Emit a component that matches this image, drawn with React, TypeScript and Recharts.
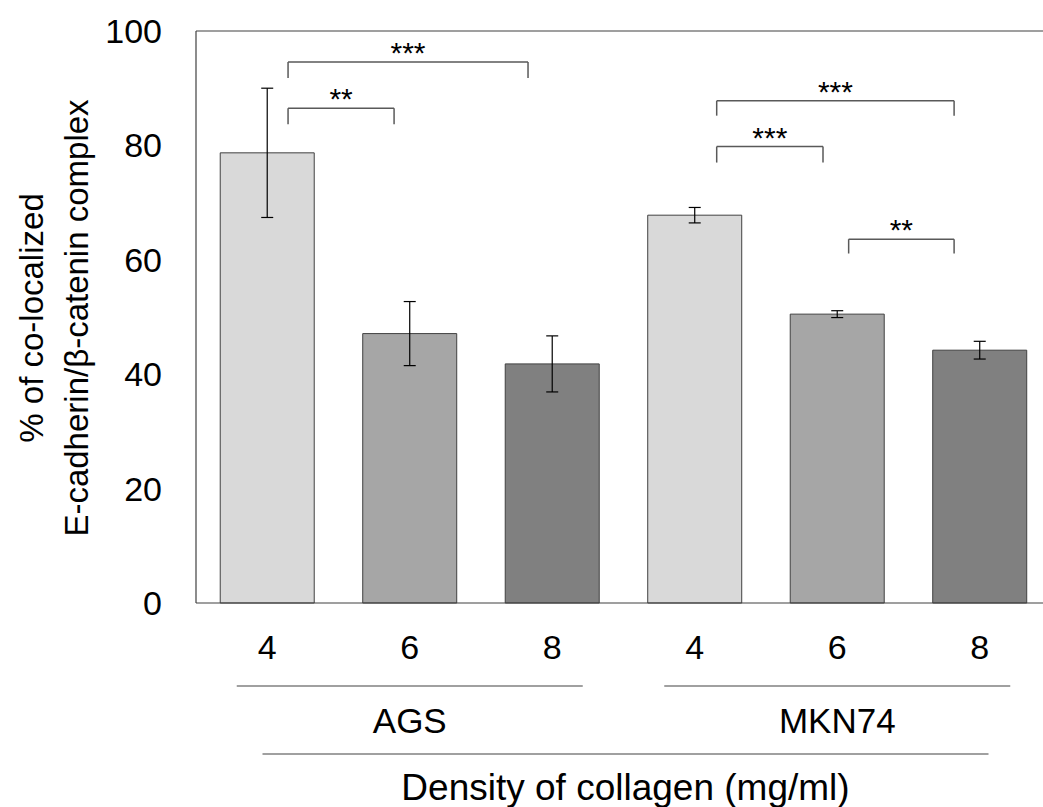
import React from 'react';
import { BarChart, Bar, XAxis, YAxis, Cell, ErrorBar, ReferenceLine } from 'recharts';

const categories = ['AGS-4', 'AGS-6', 'AGS-8', 'MKN74-4', 'MKN74-6', 'MKN74-8'];
const densityLabels = ['4', '6', '8', '4', '6', '8'];
const cellLines = ['AGS', 'MKN74'];
const meanValues = [78.7, 47.1, 41.8, 67.8, 50.5, 44.2];
const errorValues = [11.3, 5.6, 4.9, 1.35, 0.6, 1.55];
const yTicks = [0, 20, 40, 60, 80, 100];

// significance brackets: x in category-slot units (0..6), y in % units
const bracketLabels = ['***', '**', '***', '***', '**'];
const bracketX1 = [0.646, 0.646, 3.654, 3.654, 4.58];
const bracketX2 = [2.33, 1.39, 5.32, 4.40, 5.32];
const bracketY = [94.6, 86.5, 87.8, 79.8, 63.6];
const bracketLeg = [2.8, 2.8, 2.6, 2.8, 2.5];

const barColors = ['#d9d9d9', '#a6a6a6', '#808080', '#d9d9d9', '#a6a6a6', '#808080'];

const data = categories.map((c, i) => ({
  name: c,
  pos: i + 0.5,
  value: meanValues[i],
  err: errorValues[i],
}));

const FONT = '"Liberation Sans", Arial, sans-serif';

const XTick = (props: any) => {
  const { x, y, payload, index } = props;
  const groupIdx = index === 1 ? 0 : index === 4 ? 1 : -1;
  return (
    <g>
      <text x={x} y={y + 56} textAnchor="middle" fontSize={34} fontFamily={FONT} fill="#000">
        {densityLabels[index] ?? payload.value}
      </text>
      {groupIdx >= 0 && (
        <g>
          <line x1={x - 173} x2={x + 173} y1={y + 83} y2={y + 83} stroke="#808080" strokeWidth={1.5} />
          <text x={x} y={y + 130} textAnchor="middle" fontSize={35} fontFamily={FONT} fill="#000">
            {cellLines[groupIdx]}
          </text>
        </g>
      )}
    </g>
  );
};

const XTitle = (props: any) => {
  const { viewBox } = props;
  const cx = viewBox.x + viewBox.width / 2 + 2;
  return (
    <g>
      <line x1={cx - 363} x2={cx + 363} y1={viewBox.y + 151} y2={viewBox.y + 151} stroke="#808080" strokeWidth={1.5} />
      <text x={cx} y={viewBox.y + 197} textAnchor="middle" fontSize={37} fontFamily={FONT} fill="#000">
        Density of collagen (mg/ml)
      </text>
    </g>
  );
};

const YTitle = (props: any) => {
  const { viewBox } = props;
  const cy = viewBox.y + viewBox.height / 2 + 1;
  return (
    <g fontSize={33} fontFamily={FONT} fill="#000">
      <text x={43} y={cy} textAnchor="middle" transform={`rotate(-90, 43, ${cy})`}>
        % of co-localized
      </text>
      <text x={88} y={cy} textAnchor="middle" transform={`rotate(-90, 88, ${cy})`}>
        E-cadherin/β-catenin complex
      </text>
    </g>
  );
};

const StarLabel = (props: any) => {
  const { viewBox, value } = props;
  const cx = viewBox.x + viewBox.width / 2;
  return (
    <text x={cx} y={viewBox.y + 1} textAnchor="middle" fontSize={30} fontFamily={FONT} fill="#000">
      {value}
    </text>
  );
};

export default function App() {
  const bracketColor = '#595959';
  return (
    <div style={{ position: 'absolute', left: 0, top: 0, width: 1043, height: 807, overflow: 'hidden', background: '#fff' }}>
      <BarChart
        width={1051}
        height={807}
        data={data}
        margin={{ top: 31, right: 0, bottom: 0, left: 0 }}
        barCategoryGap="17%"
      >
        <XAxis
          xAxisId="cat"
          dataKey="name"
          height={204}
          tickSize={0}
          tickMargin={0}
          tick={<XTick />}
          axisLine={{ stroke: '#404040', strokeWidth: 1.2 }}
          tickLine={false}
          interval={0}
          label={<XTitle />}
        />
        <XAxis xAxisId="num" dataKey="pos" type="number" domain={[0, 6]} hide allowDataOverflow />
        <YAxis
          width={196}
          domain={[0, 100]}
          ticks={yTicks}
          tickSize={0}
          tickMargin={34}
          tickLine={false}
          axisLine={{ stroke: '#404040', strokeWidth: 1.2 }}
          tick={{ fontSize: 34, fontFamily: FONT, fill: '#000' }}
          label={<YTitle />}
        />
        <ReferenceLine xAxisId="cat" y={100} stroke="#404040" strokeWidth={1.2} />
        <Bar xAxisId="cat" dataKey="value" stroke="#404040" strokeWidth={1} isAnimationActive={false}>
          {data.map((d, i) => (
            <Cell key={d.name} fill={barColors[i]} />
          ))}
          <ErrorBar dataKey="err" width={6} stroke="#000" strokeWidth={1.2} />
        </Bar>
        {bracketLabels.map((lab, i) => (
          <ReferenceLine
            key={`top-${i}`}
            xAxisId="num"
            segment={[
              { x: bracketX1[i], y: bracketY[i] },
              { x: bracketX2[i], y: bracketY[i] },
            ]}
            stroke={bracketColor}
            strokeWidth={1.5}
            ifOverflow="visible"
            label={<StarLabel value={lab} />}
          />
        ))}
        {bracketLabels.map((lab, i) => (
          <ReferenceLine
            key={`l-${i}`}
            xAxisId="num"
            segment={[
              { x: bracketX1[i], y: bracketY[i] },
              { x: bracketX1[i], y: bracketY[i] - bracketLeg[i] },
            ]}
            stroke={bracketColor}
            strokeWidth={1.5}
            ifOverflow="visible"
          />
        ))}
        {bracketLabels.map((lab, i) => (
          <ReferenceLine
            key={`r-${i}`}
            xAxisId="num"
            segment={[
              { x: bracketX2[i], y: bracketY[i] },
              { x: bracketX2[i], y: bracketY[i] - bracketLeg[i] },
            ]}
            stroke={bracketColor}
            strokeWidth={1.5}
            ifOverflow="visible"
          />
        ))}
      </BarChart>
    </div>
  );
}
